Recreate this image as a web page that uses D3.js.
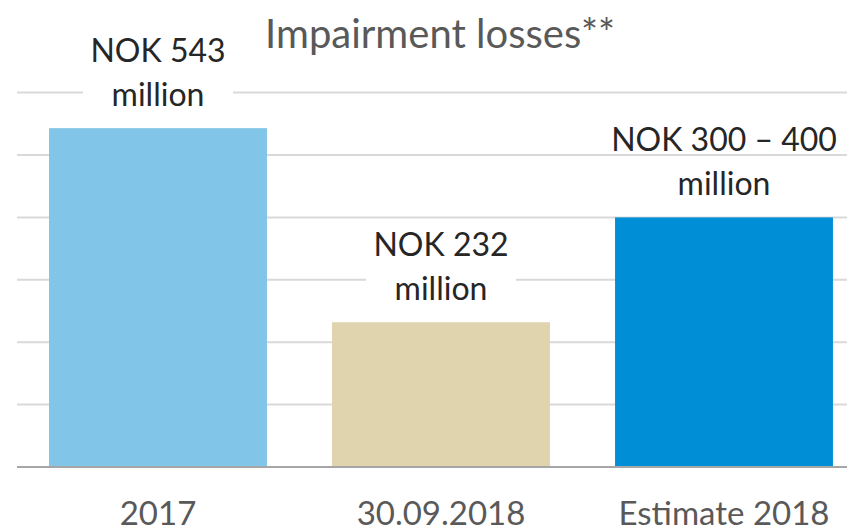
<!DOCTYPE html>
<html>
<head>
<meta charset="utf-8">
<script src="https://cdn.jsdelivr.net/npm/d3@7/dist/d3.min.js"></script>
<style>
  html, body { margin: 0; padding: 0; background: #fff; }
  svg { display: block; }
  text { font-family: Lato, "Open Sans", sans-serif; }
</style>
</head>
<body>
<svg id="chart" width="847" height="532"></svg>
<script>
const categories = ["2017", "30.09.2018", "Estimate 2018"];
const values = [543, 232, 400];
const labelLines = [["NOK 543", "million"], ["NOK 232", "million"], ["NOK 300 – 400", "million"]];
const labelBoxed = [true, true, false];
const barColors = ["#81c5e8", "#e0d4ae", "#008ed6"];
const yTicks = [100, 200, 300, 400, 500, 600];
const title = "Impairment losses**";

const W = 847, H = 532;
const svg = d3.select("#chart");

const x = d3.scaleBand().domain(categories).range([16.5, 865.5]).paddingInner(0.23).paddingOuter(0.115);
const y = d3.scaleLinear().domain([0, 600]).range([467, 92.6]);

// gridlines
svg.append("g").selectAll("line").data(yTicks).join("line")
  .attr("x1", 17).attr("x2", W)
  .attr("y1", d => y(d)).attr("y2", d => y(d))
  .attr("stroke", "#d9d9d9").attr("stroke-width", 2);

// bars
svg.append("g").selectAll("rect").data(categories).join("rect")
  .attr("x", d => x(d))
  .attr("width", x.bandwidth())
  .attr("y", (d, i) => y(values[i]))
  .attr("height", (d, i) => y(0) - y(values[i]))
  .attr("fill", (d, i) => barColors[i]);

// baseline
svg.append("line").attr("x1", 17).attr("x2", W).attr("y1", y(0)).attr("y2", y(0))
  .attr("stroke", "#a6a6a6").attr("stroke-width", 2);

// data labels
const lg = svg.append("g");
categories.forEach((c, i) => {
  const cx = x(c) + x.bandwidth() / 2;
  const base2 = y(values[i]) - 22;
  const base1 = base2 - 44;
  if (labelBoxed[i]) {
    lg.append("rect").attr("x", cx - 75).attr("width", 150)
      .attr("y", base1 - 30).attr("height", base2 - base1 + 40).attr("fill", "#fff");
  }
  labelLines[i].forEach((t, j) => {
    lg.append("text").attr("x", cx).attr("y", j === 0 ? base1 : base2)
      .attr("text-anchor", "middle").attr("fill", "#262626")
      .style("font-size", "32px").text(t);
  });
});

// x axis labels
svg.append("g").selectAll("text").data(categories).join("text")
  .attr("x", d => x(d) + x.bandwidth() / 2)
  .attr("y", 525)
  .attr("text-anchor", "middle").attr("fill", "#595959")
  .style("font-size", "33px").text(d => d);

// title
svg.append("text").attr("x", 440).attr("y", 48).attr("text-anchor", "middle")
  .attr("fill", "#595959").style("font-size", "40px").text(title);
</script>
</body>
</html>
